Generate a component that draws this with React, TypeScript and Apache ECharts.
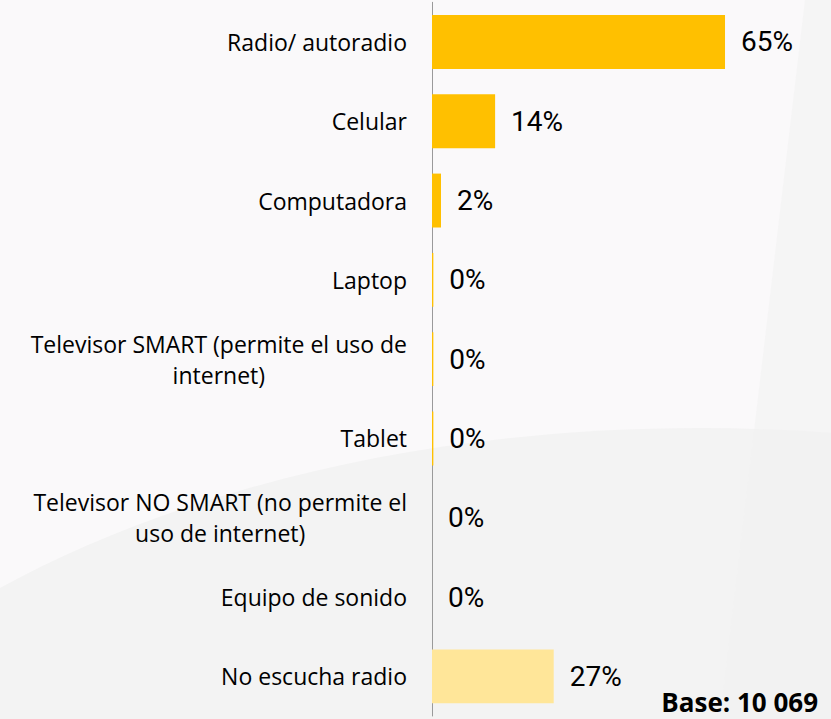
import React, { useEffect, useRef } from "react";
import * as echarts from "echarts";

const categories = [
  "Radio/ autoradio",
  "Celular",
  "Computadora",
  "Laptop",
  "Televisor SMART (permite el uso de\ninternet)",
  "Tablet",
  "Televisor NO SMART (no permite el\nuso de internet)",
  "Equipo de sonido",
  "No escucha radio",
];
const values = [65, 14, 2, 0.3, 0.3, 0.3, 0, 0, 27];
const barColors = ["#FFC000", "#FFC000", "#FFC000", "#FFC000", "#FFC000", "#FFC000", "#FFC000", "#FFC000", "#FFE699"];
const baseText = "Base: 10 069";

export default function App() {
  const ref = useRef<HTMLDivElement>(null);
  useEffect(() => {
    if (!ref.current) return;
    const chart = echarts.init(ref.current, undefined, { renderer: "svg" });
    chart.setOption({
      animation: false,
      backgroundColor: "#faf9fa",
      graphic: [
        {
          type: "ellipse",
          z: -10,
          silent: true,
          shape: { cx: 700, cy: 988, rx: 1000, ry: 560 },
          style: { fill: "#f3f3f3" },
        },
        {
          type: "polygon",
          z: -9,
          silent: true,
          shape: { points: [[805, 0], [831, 0], [831, 719], [720, 719]] },
          style: { fill: "#f1f1f1", opacity: 0.6 },
        },
        {
          type: "text",
          x: 818,
          y: 702,
          style: {
            text: baseText,
            font: "bold 26px 'Open Sans'",
            fill: "#000",
            align: "right",
            verticalAlign: "middle",
          },
        },
      ],
      grid: { left: 432, top: 2.3, bottom: 3, width: 4.508 * 80, containLabel: false },
      xAxis: {
        type: "value",
        min: 0,
        max: 80,
        show: false,
      },
      yAxis: {
        type: "category",
        data: categories,
        inverse: true,
        axisLine: { show: true, lineStyle: { color: "#9a9a9a", width: 1 } },
        axisTick: { show: false },
        axisLabel: {
          margin: 25,
          formatter: (v: string) => `{c|${v}}`,
          rich: {
            c: {
              fontFamily: "'Open Sans'",
              fontSize: 23,
              color: "#000",
              align: "center",
              lineHeight: 31,
            },
          },
        },
      },
      series: [
        {
          type: "bar",
          data: values.map((v, i) => ({ value: v, itemStyle: { color: barColors[i] } })),
          barCategoryGap: "32%",
          label: {
            show: true,
            position: "right",
            distance: 16,
            formatter: (p: any) => `${Math.round(p.value)}%`,
            fontFamily: "Roboto",
            fontSize: 28,
            color: "#000",
          },
        },
      ],
    });
    return () => chart.dispose();
  }, []);
  return (
    <div
      ref={ref}
      style={{ position: "fixed", left: 0, top: 0, width: 831, height: 719 }}
    />
  );
}
